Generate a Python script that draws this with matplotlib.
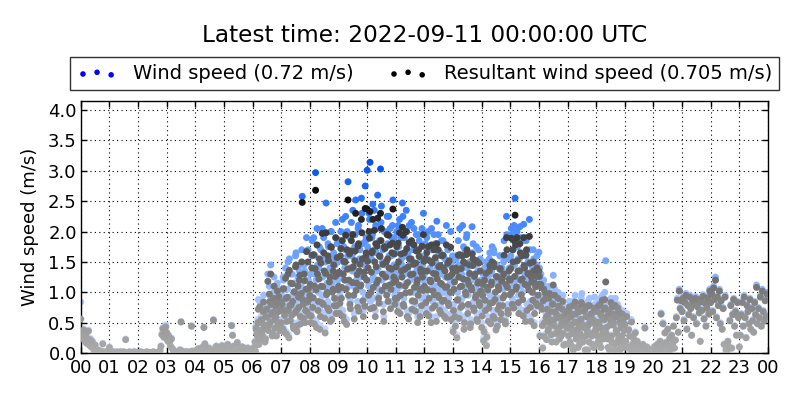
import numpy as np
import matplotlib
matplotlib.use("Agg")
import matplotlib.pyplot as plt
from matplotlib.colors import LinearSegmentedColormap, Normalize

# ---- data: wind speed and resultant wind speed (m/s), 2-minute samples, one list per hour ----
ws_00 = [0.84,0.35,0.28,0.40,0.22,0.31,0.18,0.26,0.38,0.15,0.24,0.12,0.20,0.09,0.05,0.14,0.03,0.02,0.06,0.01,0.00,0.04,0.02,0.16,0.00,0.03,0.01,0.00,0.02,0.00]
ws_01 = [0.10,0.02,0.00,0.01,0.03,0.00,0.01,0.00,0.02,0.00,0.01,0.00,0.03,0.01,0.00,0.02,0.00,0.23,0.01,0.00,0.00,0.02,0.00,0.01,0.00,0.00,0.03,0.00,0.01,0.00]
ws_02 = [0.00,0.01,0.00,0.02,0.00,0.00,0.01,0.00,0.00,0.02,0.00,0.01,0.00,0.00,0.01,0.00,0.02,0.00,0.00,0.01,0.00,0.00,0.02,0.05,0.12,0.32,0.42,0.28,0.38,0.46]
ws_03 = [0.35,0.22,0.30,0.18,0.12,0.25,0.08,0.05,0.02,0.00,0.03,0.01,0.00,0.02,0.06,0.52,0.04,0.01,0.00,0.02,0.00,0.03,0.01,0.00,0.02,0.00,0.45,0.04,0.00,0.01]
ws_04 = [0.02,0.05,0.00,0.08,0.01,0.03,0.00,0.10,0.04,0.43,0.16,0.02,0.06,0.00,0.09,0.03,0.01,0.05,0.00,0.55,0.08,0.02,0.12,0.04,0.00,0.10,0.06,0.01,0.13,0.03]
ws_05 = [0.05,0.12,0.02,0.09,0.15,0.04,0.00,0.10,0.46,0.30,0.12,0.03,0.07,0.01,0.18,0.05,0.00,0.08,0.02,0.11,0.10,0.03,0.06,0.00,0.04,0.09,0.01,0.05,0.02,0.07]
ws_06 = [0.02,0.05,0.10,0.03,0.15,0.30,0.88,0.55,0.25,0.60,0.40,0.75,0.45,0.20,0.65,0.80,1.30,0.50,0.95,1.45,0.70,0.35,1.00,0.60,0.85,0.30,1.15,0.75,0.50,0.90]
ws_07 = [0.55,0.90,1.25,0.40,0.75,1.05,0.60,1.50,0.30,0.85,1.30,0.70,0.95,0.45,1.15,1.60,0.80,0.50,1.00,1.35,0.65,1.10,2.58,0.90,1.45,0.55,1.20,0.75,1.70,1.00]
ws_08 = [1.10,0.60,1.60,0.85,1.90,1.30,2.97,0.50,1.45,1.00,1.75,0.70,1.25,2.05,0.95,1.55,0.40,2.47,1.15,1.80,0.80,1.40,2.00,0.65,1.20,1.65,1.05,2.15,0.90,1.50]
ws_09 = [1.30,0.75,1.85,1.05,2.20,1.50,0.60,1.70,1.20,2.00,2.82,1.40,0.90,1.95,1.60,2.35,1.10,1.75,2.52,1.35,0.85,2.10,1.55,1.25,2.55,1.80,0.70,1.45,2.75,1.90]
ws_10 = [3.01,1.60,2.30,3.14,1.20,1.90,2.45,0.90,1.70,2.10,1.35,2.60,1.05,1.85,3.03,2.42,1.50,0.80,2.00,1.30,1.75,2.25,1.00,1.60,2.05,1.25,1.90,2.52,1.45,0.95]
ws_11 = [1.40,2.00,0.80,1.75,2.20,1.10,1.55,2.47,0.95,1.90,1.30,2.35,0.70,1.65,2.10,1.20,1.80,0.85,1.50,2.05,1.00,1.70,1.35,0.60,1.95,1.25,1.60,0.90,1.45,2.30]
ws_12 = [1.30,1.80,0.75,1.55,2.00,1.05,1.40,0.60,1.70,1.20,1.95,0.90,1.50,2.17,1.10,1.65,0.80,1.35,1.85,1.00,1.60,0.70,1.25,2.10,1.45,0.95,1.75,1.15,0.65,1.50]
ws_13 = [0.40,1.20,0.70,1.60,0.30,1.00,1.45,2.05,0.85,1.30,2.10,1.75,0.60,1.15,1.90,1.40,0.95,1.65,0.50,1.25,2.08,1.80,0.80,1.50,1.10,0.65,1.35,1.70,0.90,1.20]
ws_14 = [0.50,1.10,0.25,1.40,0.80,0.15,1.25,0.60,1.55,0.95,1.30,1.75,0.70,1.65,1.00,0.45,1.45,0.85,1.20,1.60,0.65,1.35,0.90,1.50,1.10,0.55,2.25,1.25,0.75,1.40]
ws_15 = [1.40,2.05,0.90,1.70,2.10,2.55,1.20,2.00,1.55,0.75,2.08,1.35,1.85,1.00,2.12,1.60,0.60,1.90,1.25,1.50,2.20,0.85,1.45,1.15,1.70,0.50,1.30,0.95,1.60,1.10]
ws_16 = [1.66,0.30,1.30,0.80,0.10,1.20,0.55,1.00,0.25,0.70,0.45,1.10,0.60,0.35,0.90,1.28,0.50,0.75,0.20,0.65,1.00,0.40,0.85,0.30,0.55,0.95,0.15,0.70,0.50,0.60]
ws_17 = [0.60,0.30,0.85,0.15,0.50,0.70,0.05,0.40,0.95,0.25,0.55,0.10,0.75,0.35,0.60,0.98,0.20,0.45,0.80,0.30,0.65,0.05,0.50,0.90,0.35,0.70,0.15,0.55,0.92,0.40]
ws_18 = [0.40,0.75,0.20,0.55,0.90,0.10,0.65,0.35,0.80,1.00,1.52,0.45,0.25,0.70,0.05,0.60,0.30,0.85,0.50,0.15,0.90,0.40,0.65,0.20,0.75,0.05,0.50,0.30,0.60,0.10]
ws_19 = [0.50,0.20,0.65,0.10,0.40,0.30,0.05,0.55,0.15,0.25,0.10,0.35,0.02,0.20,0.05,0.12,0.00,0.08,0.03,0.15,0.00,0.43,0.02,0.10,0.00,0.03,0.06,0.00,0.02,0.01]
ws_20 = [0.02,0.10,0.00,0.05,0.15,0.03,0.08,0.20,0.66,0.12,0.50,0.05,0.34,0.18,0.02,0.40,0.10,0.25,0.06,0.30,0.15,0.45,0.08,0.22,0.60,0.90,0.35,1.05,0.75,0.88]
ws_21 = [0.70,0.92,0.55,0.85,0.98,0.40,0.80,0.65,0.95,0.75,0.30,0.88,0.60,0.82,0.93,0.50,0.78,0.90,0.68,0.20,0.86,0.72,0.96,0.58,0.84,0.45,0.76,0.94,0.66,1.05]
ws_22 = [0.85,1.00,0.70,1.10,0.90,1.25,0.60,0.95,0.80,1.05,0.50,0.88,0.40,0.75,0.15,0.95,0.05,0.02,0.20,0.10,0.55,0.80,0.08,0.65,0.90,0.45,0.70,0.30,0.85,0.60]
ws_23 = [0.10,0.30,0.65,0.85,0.45,0.95,0.60,0.26,0.80,0.70,0.50,0.90,0.40,0.75,0.55,0.35,0.85,0.65,1.12,0.50,0.75,0.60,0.95,0.45,1.05,0.70,0.55,0.88,0.62,1.00]

rs_00 = [0.56,0.33,0.25,0.38,0.20,0.30,0.16,0.24,0.36,0.13,0.22,0.10,0.19,0.08,0.04,0.13,0.02,0.02,0.05,0.01,0.00,0.03,0.02,0.15,0.00,0.02,0.01,0.00,0.02,0.00]
rs_01 = [0.09,0.02,0.00,0.01,0.02,0.00,0.01,0.00,0.02,0.00,0.01,0.00,0.02,0.01,0.00,0.02,0.00,0.22,0.01,0.00,0.00,0.02,0.00,0.01,0.00,0.00,0.02,0.00,0.01,0.00]
rs_02 = [0.00,0.01,0.00,0.02,0.00,0.00,0.01,0.00,0.00,0.02,0.00,0.01,0.00,0.00,0.01,0.00,0.02,0.00,0.00,0.01,0.00,0.00,0.02,0.04,0.11,0.30,0.40,0.26,0.36,0.43]
rs_03 = [0.33,0.20,0.28,0.17,0.11,0.23,0.07,0.04,0.02,0.00,0.02,0.01,0.00,0.02,0.05,0.51,0.03,0.01,0.00,0.02,0.00,0.02,0.01,0.00,0.02,0.00,0.44,0.03,0.00,0.01]
rs_04 = [0.02,0.04,0.00,0.07,0.01,0.03,0.00,0.09,0.04,0.42,0.15,0.02,0.05,0.00,0.08,0.03,0.01,0.04,0.00,0.54,0.07,0.02,0.11,0.04,0.00,0.09,0.05,0.01,0.12,0.03]
rs_05 = [0.05,0.11,0.02,0.08,0.14,0.04,0.00,0.09,0.45,0.29,0.11,0.03,0.06,0.01,0.17,0.05,0.00,0.07,0.02,0.10,0.09,0.03,0.05,0.00,0.04,0.08,0.01,0.05,0.02,0.06]
rs_06 = [0.02,0.05,0.09,0.03,0.14,0.28,0.72,0.50,0.23,0.55,0.36,0.68,0.42,0.18,0.60,0.72,1.18,0.45,0.85,1.30,0.64,0.32,0.90,0.55,0.77,0.28,1.02,0.68,0.46,0.82]
rs_07 = [0.50,0.80,1.05,0.35,0.70,0.90,0.52,1.30,0.25,0.78,1.15,0.62,0.85,0.40,1.00,1.42,0.70,0.45,0.92,1.20,0.60,0.98,2.48,0.80,1.30,0.50,1.05,0.68,1.50,0.88]
rs_08 = [0.95,0.50,1.40,0.75,1.62,1.10,2.68,0.42,1.30,0.85,1.55,0.60,1.10,1.97,0.80,1.35,0.33,1.98,1.00,1.60,0.70,1.25,1.75,0.55,1.05,1.45,0.90,1.90,0.78,1.30]
rs_09 = [1.10,0.65,1.60,0.90,1.85,1.30,0.52,1.50,1.05,1.70,2.52,1.20,0.80,1.68,1.40,1.95,0.95,1.52,2.30,1.15,0.75,1.80,1.35,1.10,2.20,1.55,0.60,1.25,2.38,1.65]
rs_10 = [2.37,1.40,2.00,2.33,1.00,1.65,2.20,0.75,1.50,1.80,1.15,2.22,0.90,1.60,2.30,2.05,1.30,0.68,1.75,1.10,1.50,1.95,0.85,1.40,1.78,1.05,1.65,2.37,1.25,0.80]
rs_11 = [1.20,1.75,0.68,1.50,1.98,0.95,1.35,2.07,0.80,1.65,1.10,2.00,0.60,1.42,1.82,1.00,1.55,0.72,1.30,1.78,0.85,1.48,1.15,0.50,1.70,1.05,1.38,0.78,1.25,1.95]
rs_12 = [1.10,1.55,0.65,1.35,1.75,0.90,1.20,0.50,1.48,1.02,1.70,0.78,1.30,1.80,0.95,1.42,0.70,1.15,1.60,0.85,1.40,0.60,1.08,1.78,1.25,0.82,1.52,1.00,0.55,1.30]
rs_13 = [0.35,1.05,0.60,1.40,0.25,0.88,1.25,1.62,0.75,1.10,1.60,1.50,0.50,1.00,1.62,1.20,0.80,1.45,0.42,1.08,1.63,1.55,0.70,1.30,0.95,0.55,1.15,1.48,0.78,1.02]
rs_14 = [0.42,0.95,0.20,1.20,0.70,0.12,1.08,0.52,1.35,0.82,1.12,1.50,0.60,1.42,0.88,0.38,1.25,0.72,1.05,1.38,0.55,1.18,0.78,1.30,0.95,0.48,1.90,1.08,0.65,1.22]
rs_15 = [1.20,1.89,0.80,1.50,1.85,2.27,1.05,1.90,1.35,0.65,1.80,1.20,1.60,0.88,1.90,1.40,0.52,1.70,1.10,1.30,1.92,0.75,1.25,1.00,1.50,0.45,1.15,0.82,1.40,0.95]
rs_16 = [1.35,0.28,1.13,0.72,0.08,1.05,0.50,0.90,0.22,0.62,0.40,0.98,0.55,0.30,0.80,1.12,0.45,0.68,0.18,0.58,0.90,0.36,0.75,0.27,0.50,0.85,0.13,0.63,0.45,0.54]
rs_17 = [0.55,0.28,0.76,0.14,0.46,0.64,0.05,0.37,0.84,0.23,0.50,0.09,0.68,0.32,0.55,0.80,0.18,0.42,0.72,0.28,0.60,0.05,0.46,0.78,0.32,0.64,0.14,0.50,0.70,0.37]
rs_18 = [0.37,0.68,0.18,0.50,0.80,0.09,0.60,0.32,0.72,0.88,1.17,0.42,0.23,0.64,0.05,0.55,0.28,0.76,0.46,0.14,0.78,0.37,0.60,0.18,0.68,0.05,0.46,0.28,0.55,0.09]
rs_19 = [0.47,0.19,0.60,0.10,0.38,0.28,0.05,0.51,0.14,0.24,0.10,0.33,0.02,0.19,0.05,0.11,0.00,0.08,0.03,0.14,0.00,0.41,0.02,0.10,0.00,0.03,0.06,0.00,0.02,0.01]
rs_20 = [0.02,0.10,0.00,0.05,0.14,0.03,0.08,0.19,0.64,0.12,0.48,0.05,0.33,0.17,0.02,0.39,0.10,0.24,0.06,0.29,0.15,0.44,0.08,0.21,0.58,0.87,0.34,1.02,0.73,0.86]
rs_21 = [0.68,0.90,0.53,0.83,0.95,0.39,0.78,0.63,0.92,0.73,0.29,0.86,0.58,0.80,0.90,0.48,0.76,0.88,0.66,0.19,0.84,0.70,0.93,0.56,0.82,0.44,0.74,0.91,0.64,1.02]
rs_22 = [0.83,0.97,0.68,1.07,0.88,1.20,0.58,0.92,0.78,1.02,0.48,0.86,0.39,0.73,0.14,0.92,0.05,0.02,0.19,0.10,0.53,0.78,0.08,0.63,0.88,0.44,0.68,0.29,0.83,0.58]
rs_23 = [0.10,0.29,0.63,0.83,0.44,0.92,0.58,0.25,0.78,0.68,0.48,0.88,0.39,0.73,0.53,0.34,0.83,0.63,1.08,0.48,0.73,0.58,0.92,0.44,1.02,0.68,0.53,0.86,0.60,0.97]

# extra samples (odd minutes) for the busy daytime hours 06-18
ws_06b = [0.05,0.10,0.20,0.45,0.35,0.55,0.15,0.85,0.40,0.60,0.30,0.95,0.50,0.25,0.80,0.65,0.40,1.10,0.55,0.90,0.30,0.75,1.25,0.45,0.65,0.95,0.55,1.05,0.40,0.80]
ws_07b = [0.95,0.45,1.20,0.70,1.40,0.35,1.05,0.80,1.55,0.60,0.90,1.30,0.50,1.15,0.75,1.65,0.40,1.25,0.85,1.45,0.55,1.70,1.00,0.65,1.35,0.80,1.90,0.95,1.20,0.70]
ws_08b = [1.30,0.70,1.85,1.05,0.55,1.60,1.20,2.05,0.80,1.40,0.45,1.70,0.95,1.25,1.90,0.65,1.50,1.10,0.85,1.75,1.35,0.60,2.00,1.15,1.55,0.90,1.45,0.75,1.80,1.20]
ws_09b = [1.55,0.95,2.00,1.25,0.70,1.75,1.40,2.25,0.55,1.60,1.10,1.90,0.85,2.15,1.35,1.65,0.65,1.95,1.20,1.50,2.05,0.80,1.70,1.30,2.30,1.00,1.55,0.90,1.85,1.40]
ws_10b = [1.75,1.10,2.20,0.85,1.55,1.95,1.25,2.35,0.70,1.65,2.05,1.40,0.95,1.85,2.15,1.20,1.70,0.60,2.00,1.45,1.10,1.80,2.25,1.30,0.85,1.60,2.10,1.35,1.90,1.05]
ws_11b = [1.65,1.05,2.10,1.30,0.75,1.90,1.45,2.25,0.90,1.60,1.15,2.00,1.35,0.65,1.80,1.50,2.15,1.00,1.70,1.25,0.80,1.95,1.40,1.10,1.85,0.70,1.55,2.05,1.20,1.75]
ws_12b = [1.55,0.95,1.90,1.20,0.70,1.75,1.35,2.05,0.85,1.50,1.10,1.80,0.60,1.40,1.95,1.05,1.65,0.75,1.30,1.85,1.00,1.55,0.65,1.25,1.70,0.90,1.45,2.00,1.15,1.60]
ws_13b = [0.80,1.35,0.50,1.55,1.00,1.85,0.65,1.25,1.60,0.90,1.40,0.45,1.70,1.10,1.95,0.75,1.30,1.50,0.55,1.20,1.65,0.85,1.45,1.05,1.75,0.60,1.35,0.95,1.55,1.15]
ws_14b = [0.70,1.30,0.40,1.00,1.50,0.30,1.20,0.85,1.65,0.55,1.35,0.95,1.70,0.65,1.15,1.45,0.50,1.25,0.90,1.60,0.75,1.40,1.05,1.85,0.60,1.30,1.95,0.80,1.55,1.10]
ws_15b = [1.60,1.15,1.95,0.85,1.45,2.05,1.25,1.75,0.95,1.55,1.90,1.10,1.40,0.70,1.65,1.30,1.85,0.80,1.50,1.20,1.70,0.60,1.35,1.00,1.55,0.75,1.25,1.45,0.90,1.30]
ws_16b = [1.40,0.85,1.20,0.50,0.95,0.30,1.10,0.65,0.80,0.40,1.00,0.55,0.75,0.20,0.90,0.60,1.05,0.35,0.70,0.45,0.85,0.25,0.65,0.50,0.80,0.35,0.60,0.15,0.75,0.45]
ws_17b = [0.45,0.75,0.20,0.65,0.35,0.85,0.10,0.55,0.70,0.30,0.80,0.45,0.15,0.60,0.90,0.25,0.50,0.75,0.05,0.65,0.40,0.85,0.20,0.55,0.70,0.30,0.60,0.10,0.80,0.50]
ws_18b = [0.55,0.30,0.85,0.15,0.70,0.45,0.95,0.25,0.60,0.80,0.35,0.65,0.10,0.75,0.50,0.90,0.20,0.55,0.70,0.05,0.65,0.35,0.80,0.25,0.55,0.10,0.45,0.70,0.20,0.40]

rs_06b = [0.05,0.09,0.18,0.41,0.32,0.50,0.14,0.76,0.37,0.54,0.28,0.84,0.46,0.23,0.72,0.59,0.37,0.97,0.50,0.80,0.28,0.67,1.10,0.41,0.59,0.84,0.50,0.93,0.37,0.71]
rs_07b = [0.84,0.40,1.06,0.62,1.23,0.31,0.92,0.70,1.36,0.53,0.79,1.14,0.44,1.01,0.66,1.45,0.35,1.10,0.75,1.28,0.48,1.50,0.88,0.57,1.19,0.70,1.67,0.84,1.06,0.62]
rs_08b = [1.13,0.61,1.61,0.91,0.48,1.39,1.04,1.78,0.70,1.22,0.39,1.48,0.83,1.09,1.65,0.57,1.31,0.96,0.74,1.52,1.17,0.52,1.74,1.00,1.35,0.78,1.26,0.65,1.57,1.04]
rs_09b = [1.33,0.82,1.72,1.08,0.60,1.51,1.20,1.94,0.47,1.38,0.95,1.63,0.73,1.85,1.16,1.42,0.56,1.68,1.03,1.29,1.76,0.69,1.46,1.12,1.98,0.86,1.33,0.77,1.59,1.20]
rs_10b = [1.51,0.95,1.89,0.73,1.33,1.68,1.08,2.02,0.60,1.42,1.76,1.20,0.82,1.59,1.85,1.03,1.46,0.52,1.72,1.25,0.95,1.55,1.94,1.12,0.73,1.38,1.81,1.16,1.63,0.90]
rs_11b = [1.42,0.90,1.81,1.12,0.65,1.63,1.25,1.94,0.77,1.38,0.99,1.72,1.16,0.56,1.55,1.29,1.85,0.86,1.46,1.08,0.69,1.68,1.20,0.95,1.59,0.60,1.33,1.76,1.03,1.51]
rs_12b = [1.35,0.83,1.65,1.04,0.61,1.52,1.17,1.78,0.74,1.31,0.96,1.57,0.52,1.22,1.70,0.91,1.44,0.65,1.13,1.61,0.87,1.35,0.57,1.09,1.48,0.78,1.26,1.74,1.00,1.39]
rs_13b = [0.70,1.17,0.44,1.35,0.87,1.61,0.57,1.09,1.39,0.78,1.22,0.39,1.48,0.96,1.70,0.65,1.13,1.31,0.48,1.04,1.44,0.74,1.26,0.91,1.52,0.52,1.17,0.83,1.35,1.00]
rs_14b = [0.61,1.13,0.35,0.87,1.31,0.26,1.04,0.74,1.44,0.48,1.17,0.83,1.48,0.57,1.00,1.26,0.44,1.09,0.78,1.39,0.65,1.22,0.91,1.61,0.52,1.13,1.70,0.70,1.35,0.96]
rs_15b = [1.39,1.00,1.70,0.74,1.26,1.78,1.09,1.52,0.83,1.35,1.65,0.96,1.22,0.61,1.44,1.13,1.61,0.70,1.31,1.04,1.48,0.52,1.17,0.87,1.35,0.65,1.09,1.26,0.78,1.13]
rs_16b = [1.26,0.77,1.08,0.45,0.86,0.27,0.99,0.59,0.72,0.36,0.90,0.50,0.68,0.18,0.81,0.54,0.95,0.32,0.63,0.41,0.77,0.23,0.59,0.45,0.72,0.32,0.54,0.14,0.68,0.41]
rs_17b = [0.41,0.69,0.18,0.60,0.32,0.78,0.09,0.51,0.64,0.28,0.74,0.41,0.14,0.55,0.83,0.23,0.46,0.69,0.05,0.60,0.37,0.78,0.18,0.51,0.64,0.28,0.55,0.09,0.74,0.46]
rs_18b = [0.51,0.28,0.78,0.14,0.64,0.41,0.87,0.23,0.55,0.74,0.32,0.60,0.09,0.69,0.46,0.83,0.18,0.51,0.64,0.05,0.60,0.32,0.74,0.23,0.51,0.09,0.41,0.64,0.18,0.37]

hour_labels = ["%02d" % h for h in range(24)] + ["00"]
title_text = "Latest time: 2022-09-11 00:00:00 UTC"
label_ws = "Wind speed (0.72 m/s)"
label_rs = "Resultant wind speed (0.705 m/s)"

# ---- assemble series with their sample times (hours) ----
ws_main = [ws_00, ws_01, ws_02, ws_03, ws_04, ws_05, ws_06, ws_07, ws_08, ws_09, ws_10, ws_11,
           ws_12, ws_13, ws_14, ws_15, ws_16, ws_17, ws_18, ws_19, ws_20, ws_21, ws_22, ws_23]
rs_main = [rs_00, rs_01, rs_02, rs_03, rs_04, rs_05, rs_06, rs_07, rs_08, rs_09, rs_10, rs_11,
           rs_12, rs_13, rs_14, rs_15, rs_16, rs_17, rs_18, rs_19, rs_20, rs_21, rs_22, rs_23]
ws_extra = {6: ws_06b, 7: ws_07b, 8: ws_08b, 9: ws_09b, 10: ws_10b, 11: ws_11b, 12: ws_12b,
            13: ws_13b, 14: ws_14b, 15: ws_15b, 16: ws_16b, 17: ws_17b, 18: ws_18b}
rs_extra = {6: rs_06b, 7: rs_07b, 8: rs_08b, 9: rs_09b, 10: rs_10b, 11: rs_11b, 12: rs_12b,
            13: rs_13b, 14: rs_14b, 15: rs_15b, 16: rs_16b, 17: rs_17b, 18: rs_18b}

t_list, ws_list, rs_list = [], [], []
for h in range(24):
    k = len(ws_main[h])
    t_list.append(h + np.arange(k) / k)
    ws_list.append(ws_main[h])
    rs_list.append(rs_main[h])
    if h in ws_extra:
        k2 = len(ws_extra[h])
        t_list.append(h + (np.arange(k2) + 0.5) / k2)
        ws_list.append(ws_extra[h])
        rs_list.append(rs_extra[h])
hours = np.concatenate(t_list)
wind_speed = np.concatenate(ws_list)
resultant = np.concatenate(rs_list)
order = np.argsort(hours, kind="stable")
hours, wind_speed, resultant = hours[order], wind_speed[order], resultant[order]

blue_cmap = LinearSegmentedColormap.from_list(
    "blues", [(0.0, "#dbe6ff"), (0.25, "#a9c6ff"), (0.5, "#6ea2ff"),
              (0.7, "#3d82ff"), (1.0, "#0050e6")])
grey_cmap = LinearSegmentedColormap.from_list(
    "greys", [(0.0, "#ababab"), (0.2, "#979797"), (0.4, "#777777"),
              (0.6, "#585858"), (0.8, "#333333"), (1.0, "#080808")])

fig = plt.figure(figsize=(8, 4), dpi=100)
ax = fig.add_axes([0.101, 0.1175, 0.859, 0.63])

ax.scatter(hours, wind_speed, c=wind_speed, cmap=blue_cmap, norm=Normalize(0, 3.2),
           s=25, edgecolors="none", zorder=2)
ax.scatter(hours, resultant, c=resultant, cmap=grey_cmap, norm=Normalize(0, 2.6),
           s=25, edgecolors="none", zorder=3)

ax.set_xlim(0, 24)
ax.set_ylim(0, 4.15)
ax.set_xticks(range(25))
ax.set_xticklabels(hour_labels)
yt = np.arange(0, 4.01, 0.5)
ax.set_yticks(yt)
ax.set_yticklabels(["%.1f" % v for v in yt])
ax.set_axisbelow(True)
ax.grid(True, color="black", linestyle=(0, (1, 3)), linewidth=0.8)
ax.tick_params(direction="in", top=True, right=True, length=4, width=1, labelsize=13)
ax.tick_params(axis="x", pad=4)
ax.tick_params(axis="y", pad=3)
for sp in ax.spines.values():
    sp.set_linewidth(1.0)
    sp.set_color("black")
ax.set_ylabel("Wind speed (m/s)", fontsize=13, labelpad=6.5)

fig.text(0.5306, 0.9125, title_text, ha="center", va="center", fontsize=16.7)

h_ws = ax.scatter([], [], color="blue", edgecolors="none", s=16)
h_rs = ax.scatter([], [], color="black", edgecolors="none", s=16)
leg = fig.legend([h_ws, h_rs], [label_ws, label_rs], loc="center",
                 bbox_to_anchor=(0.5306, 0.816), ncol=2, fontsize=14,
                 scatterpoints=3, frameon=True, fancybox=False,
                 handlelength=2.05, handletextpad=0.8, columnspacing=1.8,
                 borderpad=0.35, borderaxespad=0)
leg.get_frame().set_edgecolor("black")
leg.get_frame().set_linewidth(1.0)

fig.savefig("out.png", dpi=100)
